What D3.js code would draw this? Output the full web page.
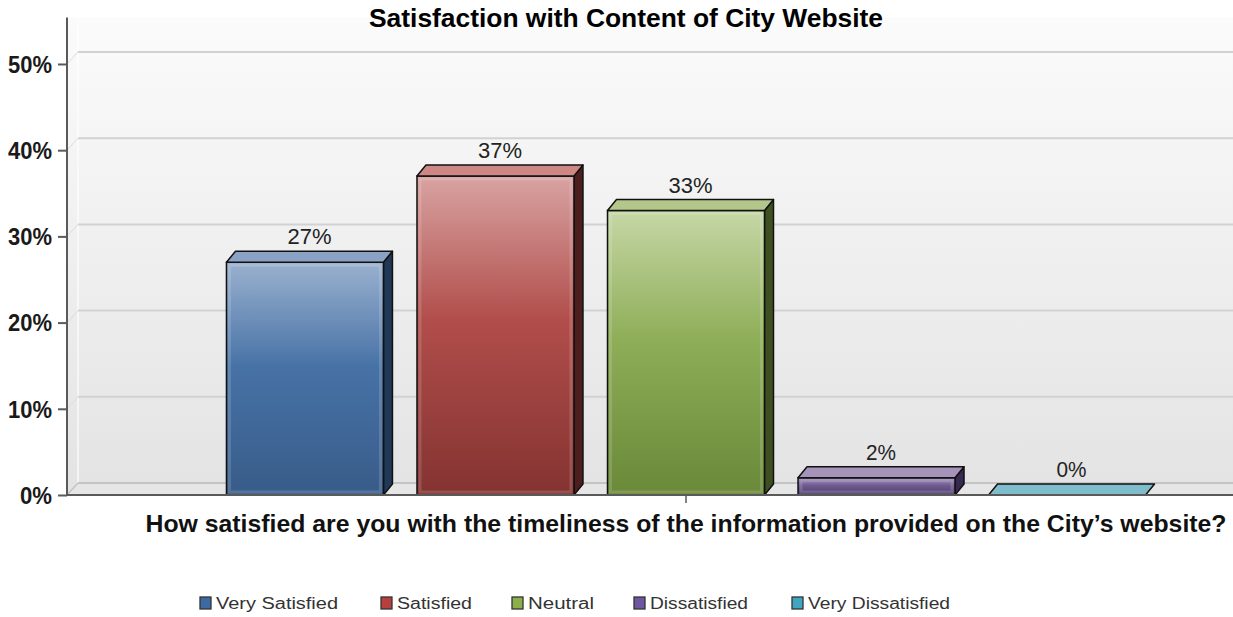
<!DOCTYPE html>
<html>
<head>
<meta charset="utf-8">
<script src="https://cdn.jsdelivr.net/npm/d3@7"></script>
<style>
  html, body { margin: 0; padding: 0; background: #ffffff; }
  svg { display: block; font-family: "Liberation Sans", Arial, sans-serif; }
</style>
</head>
<body>
<svg id="chart" width="1233" height="617"></svg>
<script>
// ---- data ----
const title = "Satisfaction with Content of City Website";
const question = "How satisfied are you with the timeliness of the information provided on the City\u2019s website?";
const categories = [question];
const seriesNames = ["Very Satisfied", "Satisfied", "Neutral", "Dissatisfied", "Very Dissatisfied"];
const seriesValues = [27, 37, 33, 2, 0];
const yTicks = [0, 10, 20, 30, 40, 50];

// palette per series: [top light, mid, bottom dark, top face, side face, legend]
const palette = [
  ["#9ab1cf", "#4772a6", "#385c89", "#8aa3c4", "#203956", "#3d6aa3"],
  ["#d8a3a2", "#b14e4b", "#843331", "#cd8886", "#4c1f1e", "#b5403d"],
  ["#c6d7a6", "#8fae58", "#6a8939", "#b3c78a", "#3e5020", "#8bb04a"],
  ["#a796bd", "#6f5b91", "#4e3c6b", "#a593b9", "#38294e", "#6f56a0"],
  ["#9fd0dc", "#5aaec4", "#3f8ea3", "#7fbccc", "#2d6b7a", "#3fa5c0"]
];

const W = 1233, H = 617;
const baseY = 495, axisX = 67;
const wallDX = 11, wallDY = -12;   // depth of back wall
const barDX = 9, barDY = -11;      // depth of each bar

const svg = d3.select("#chart");
const defs = svg.append("defs");

// scales
const y = d3.scaleLinear().domain([0, 54]).range([baseY, 29.5]);
const x0 = d3.scaleBand().domain(categories).range([axisX, 1305]).paddingInner(0).paddingOuter(0.1735);
const x1 = d3.scaleBand().domain(seriesNames).range([x0(question), x0(question) + x0.bandwidth()])
  .paddingInner(0.176).paddingOuter(0);

// ---- back wall ----
const wallGrad = defs.append("linearGradient").attr("id", "wallGrad")
  .attr("x1", 0).attr("y1", 0).attr("x2", 0).attr("y2", 1);
wallGrad.append("stop").attr("offset", 0).attr("stop-color", "#fbfbfb");
wallGrad.append("stop").attr("offset", 1).attr("stop-color", "#e3e3e3");

const wallTop = y(54) + wallDY;
svg.append("rect")
  .attr("x", axisX).attr("y", wallTop)
  .attr("width", W - axisX).attr("height", baseY - wallTop)
  .attr("fill", "url(#wallGrad)");

// left side wall edge
svg.append("line")
  .attr("x1", axisX + wallDX).attr("x2", axisX + wallDX)
  .attr("y1", wallTop).attr("y2", baseY + wallDY)
  .attr("stroke", "#ffffff").attr("stroke-width", 1.5).attr("opacity", 0.8);

// gridlines on the back wall, with short diagonal links to the axis
const grid = svg.append("g");
yTicks.filter(t => t > 0).forEach(t => {
  grid.append("line")
    .attr("x1", axisX + wallDX).attr("x2", W)
    .attr("y1", y(t) + wallDY).attr("y2", y(t) + wallDY)
    .attr("stroke", "#d2d2d2").attr("stroke-width", 2);
  grid.append("line")
    .attr("x1", axisX).attr("y1", y(t))
    .attr("x2", axisX + wallDX).attr("y2", y(t) + wallDY)
    .attr("stroke", "#dcdcdc").attr("stroke-width", 1);
});

// floor
svg.append("path")
  .attr("d", `M${axisX},${baseY} L${axisX + wallDX},${baseY + wallDY} L${W},${baseY + wallDY} L${W},${baseY} Z`)
  .attr("fill", "#e6e6e6");
svg.append("line")
  .attr("x1", axisX + wallDX).attr("x2", W)
  .attr("y1", baseY + wallDY).attr("y2", baseY + wallDY)
  .attr("stroke", "#c4c4c4").attr("stroke-width", 2);
svg.append("line")
  .attr("x1", axisX).attr("y1", baseY)
  .attr("x2", axisX + wallDX).attr("y2", baseY + wallDY)
  .attr("stroke", "#c4c4c4").attr("stroke-width", 1.5);

// ---- bars ----
const bars = svg.append("g");
seriesNames.forEach((name, i) => {
  const v = seriesValues[i];
  const c = palette[i];
  const g = defs.append("linearGradient").attr("id", "bar" + i)
    .attr("x1", 0).attr("y1", 0).attr("x2", 0).attr("y2", 1);
  g.append("stop").attr("offset", 0).attr("stop-color", c[0]);
  g.append("stop").attr("offset", 0.45).attr("stop-color", c[1]);
  g.append("stop").attr("offset", 1).attr("stop-color", c[2]);

  const bx = x1(name), bw = x1.bandwidth(), ty = y(v);
  const grp = bars.append("g");
  if (baseY - ty > 0.5) {
    // side face
    grp.append("path")
      .attr("d", `M${bx + bw},${ty} L${bx + bw + barDX},${ty + barDY} L${bx + bw + barDX},${baseY + barDY} L${bx + bw},${baseY} Z`)
      .attr("fill", c[4]).attr("stroke", "#111").attr("stroke-width", 1.5).attr("stroke-linejoin", "round");
    // front face
    grp.append("rect")
      .attr("x", bx).attr("y", ty).attr("width", bw).attr("height", baseY - ty)
      .attr("fill", `url(#bar${i})`).attr("stroke", "#111").attr("stroke-width", 1.5);
    // soft bevel highlight
    grp.append("rect")
      .attr("x", bx + 3).attr("y", ty + 3).attr("width", bw - 6).attr("height", Math.max(0, baseY - ty - 6))
      .attr("fill", "none").attr("stroke", "#ffffff").attr("stroke-opacity", 0.15).attr("stroke-width", 3);
  }
  // top face
  grp.append("path")
    .attr("d", `M${bx},${ty} L${bx + barDX},${ty + barDY} L${bx + bw + barDX},${ty + barDY} L${bx + bw},${ty} Z`)
    .attr("fill", c[3]).attr("stroke", "#111").attr("stroke-width", 1.5).attr("stroke-linejoin", "round");

  // value label
  svg.append("text")
    .attr("x", bx + bw / 2 + barDX / 2)
    .attr("y", ty + barDY - 7)
    .attr("text-anchor", "middle")
    .attr("font-size", 22).attr("fill", "#222")
    .attr("textLength", v >= 10 ? 44 : 30).attr("lengthAdjust", "spacingAndGlyphs")
    .text(d3.format(".0f")(v) + "%");
});

// ---- axes ----
// front baseline
svg.append("line")
  .attr("x1", axisX).attr("x2", W).attr("y1", baseY).attr("y2", baseY)
  .attr("stroke", "#5a5a5a").attr("stroke-width", 2);
// vertical axis
svg.append("line")
  .attr("x1", axisX).attr("x2", axisX).attr("y1", wallTop).attr("y2", baseY + 1)
  .attr("stroke", "#5a5a5a").attr("stroke-width", 2);

const yAxis = d3.axisLeft(y).tickValues(yTicks).tickSize(9).tickPadding(6).tickFormat(d => d + "%");
const yg = svg.append("g").attr("transform", `translate(${axisX},0)`).call(yAxis);
yg.select(".domain").remove();
yg.selectAll(".tick line").attr("stroke", "#5a5a5a").attr("stroke-width", 2);
yg.selectAll(".tick text")
  .attr("font-family", "'Liberation Sans', Arial, sans-serif")
  .attr("font-size", 23).attr("font-weight", "bold").attr("fill", "#1a1a1a")
  .attr("textLength", d => d >= 10 ? 44 : 32).attr("lengthAdjust", "spacingAndGlyphs")
  .attr("dy", "0.36em");

const xAxis = d3.axisBottom(x0).tickSize(8).tickFormat("");
const xg = svg.append("g").attr("transform", `translate(0,${baseY})`).call(xAxis);
xg.select(".domain").remove();
xg.selectAll(".tick line").attr("stroke", "#5a5a5a").attr("stroke-width", 1.5);

// axis title under the baseline
svg.append("text")
  .attr("x", x0(question) + x0.bandwidth() / 2).attr("y", 532)
  .attr("text-anchor", "middle")
  .attr("font-size", 24).attr("font-weight", "bold").attr("fill", "#111")
  .attr("textLength", 1081).attr("lengthAdjust", "spacingAndGlyphs")
  .text(question);

// chart title
svg.append("text")
  .attr("x", 626).attr("y", 27)
  .attr("text-anchor", "middle")
  .attr("font-size", 25).attr("font-weight", "bold").attr("fill", "#000")
  .attr("textLength", 514).attr("lengthAdjust", "spacingAndGlyphs")
  .text(title);

// ---- legend ----
const legendX = [200, 381, 512, 634, 792];
const legendW = [122, 75, 66, 98, 142];
const legend = svg.append("g").attr("transform", "translate(0,609)");
seriesNames.forEach((name, i) => {
  const item = legend.append("g").attr("transform", `translate(${legendX[i]},0)`);
  item.append("rect").attr("x", 0).attr("y", -12).attr("width", 11).attr("height", 12)
    .attr("fill", palette[i][5]).attr("stroke", "#333").attr("stroke-width", 1.3);
  item.append("text").attr("x", 16).attr("y", 0)
    .attr("font-size", 16).attr("fill", "#333")
    .attr("textLength", legendW[i]).attr("lengthAdjust", "spacingAndGlyphs")
    .text(name);
});
</script>
</body>
</html>
